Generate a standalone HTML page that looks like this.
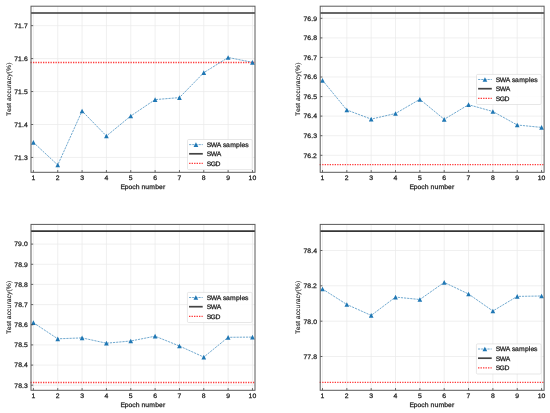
<!DOCTYPE html>
<html><head><meta charset="utf-8"><style>
html,body{margin:0;padding:0;background:#fff;}
body{width:550px;height:413px;overflow:hidden;}
svg{display:block;}
text{text-rendering:geometricPrecision;font-family:"Liberation Sans", sans-serif;font-size:6.45px;fill:#1e1e1e;stroke:#1e1e1e;stroke-width:0.25px;}
.t{filter:grayscale(1);}
</style></head><body>
<svg width="550" height="413" viewBox="0 0 550 413">
<rect width="550" height="413" fill="#fff"/>
<path d="M33.40,6.20V172.30M57.74,6.20V172.30M82.08,6.20V172.30M106.42,6.20V172.30M130.76,6.20V172.30M155.10,6.20V172.30M179.44,6.20V172.30M203.78,6.20V172.30M228.12,6.20V172.30M252.46,6.20V172.30M31.00,157.45H255.00M31.00,124.50H255.00M31.00,91.55H255.00M31.00,58.60H255.00M31.00,25.65H255.00" stroke="#e9e9e9" stroke-width="0.7" fill="none"/>
<path d="M31.00,13.00H255.00" stroke="#363636" stroke-width="1.6" fill="none"/>
<path d="M30.50,62.50H255.00" stroke="#ff3a3a" stroke-width="1.3" stroke-dasharray="1.3 1.2" fill="none"/>
<path d="M33.40,142.40L57.74,165.00L82.08,111.00L106.42,136.00L130.76,116.00L155.10,99.60L179.44,97.60L203.78,72.70L228.12,57.50L252.46,62.30" stroke="#1f77b4" stroke-width="0.75" stroke-dasharray="2.2 0.95" fill="none" opacity="0.85"/>
<path d="M33.40,140.05L31.05,144.75L35.75,144.75ZM57.74,162.65L55.39,167.35L60.09,167.35ZM82.08,108.65L79.73,113.35L84.43,113.35ZM106.42,133.65L104.07,138.35L108.77,138.35ZM130.76,113.65L128.41,118.35L133.11,118.35ZM155.10,97.25L152.75,101.95L157.45,101.95ZM179.44,95.25L177.09,99.95L181.79,99.95ZM203.78,70.35L201.43,75.05L206.13,75.05ZM228.12,55.15L225.77,59.85L230.47,59.85ZM252.46,59.95L250.11,64.65L254.81,64.65Z" fill="#1f77b4"/>
<path d="M33.40,172.30V170.10M57.74,172.30V170.10M82.08,172.30V170.10M106.42,172.30V170.10M130.76,172.30V170.10M155.10,172.30V170.10M179.44,172.30V170.10M203.78,172.30V170.10M228.12,172.30V170.10M252.46,172.30V170.10M31.00,157.45H33.20M31.00,124.50H33.20M31.00,91.55H33.20M31.00,58.60H33.20M31.00,25.65H33.20" stroke="#333" stroke-width="0.75" fill="none"/>
<rect x="31.00" y="6.20" width="224.00" height="166.10" stroke="#5a5a5a" stroke-width="1.0" fill="none"/>
<rect x="187.50" y="139.50" width="64.70" height="30.10" rx="1.2" fill="#fff" fill-opacity="0.85" stroke="#d6d6d6" stroke-width="0.6"/>
<path d="M189.10,144.60H202.80" stroke="#1f77b4" stroke-width="0.75" stroke-dasharray="2.2 0.95" fill="none" opacity="0.85"/>
<path d="M195.95,142.25L193.60,146.95L198.30,146.95Z" fill="#1f77b4"/>
<path d="M189.10,153.80H202.80" stroke="#444" stroke-width="1.7" fill="none"/>
<path d="M189.10,163.40H202.80" stroke="#ff3a3a" stroke-width="1.3" stroke-dasharray="1.4 1.1" fill="none"/>
<path d="M322.50,6.20V172.30M346.84,6.20V172.30M371.18,6.20V172.30M395.52,6.20V172.30M419.86,6.20V172.30M444.20,6.20V172.30M468.54,6.20V172.30M492.88,6.20V172.30M517.22,6.20V172.30M541.56,6.20V172.30M320.20,155.30H544.10M320.20,135.70H544.10M320.20,116.10H544.10M320.20,96.60H544.10M320.20,77.00H544.10M320.20,57.40H544.10M320.20,37.90H544.10M320.20,18.30H544.10" stroke="#e9e9e9" stroke-width="0.7" fill="none"/>
<path d="M320.20,13.05H544.10" stroke="#363636" stroke-width="1.6" fill="none"/>
<path d="M319.70,164.70H544.10" stroke="#ff3a3a" stroke-width="1.3" stroke-dasharray="1.3 1.2" fill="none"/>
<path d="M322.50,80.30L346.84,110.00L371.18,119.10L395.52,113.50L419.86,99.30L444.20,119.30L468.54,104.70L492.88,111.50L517.22,125.00L541.56,127.40" stroke="#1f77b4" stroke-width="0.75" stroke-dasharray="2.2 0.95" fill="none" opacity="0.85"/>
<path d="M322.50,77.95L320.15,82.65L324.85,82.65ZM346.84,107.65L344.49,112.35L349.19,112.35ZM371.18,116.75L368.83,121.45L373.53,121.45ZM395.52,111.15L393.17,115.85L397.87,115.85ZM419.86,96.95L417.51,101.65L422.21,101.65ZM444.20,116.95L441.85,121.65L446.55,121.65ZM468.54,102.35L466.19,107.05L470.89,107.05ZM492.88,109.15L490.53,113.85L495.23,113.85ZM517.22,122.65L514.87,127.35L519.57,127.35ZM541.56,125.05L539.21,129.75L543.91,129.75Z" fill="#1f77b4"/>
<path d="M322.50,172.30V170.10M346.84,172.30V170.10M371.18,172.30V170.10M395.52,172.30V170.10M419.86,172.30V170.10M444.20,172.30V170.10M468.54,172.30V170.10M492.88,172.30V170.10M517.22,172.30V170.10M541.56,172.30V170.10M320.20,155.30H322.40M320.20,135.70H322.40M320.20,116.10H322.40M320.20,96.60H322.40M320.20,77.00H322.40M320.20,57.40H322.40M320.20,37.90H322.40M320.20,18.30H322.40" stroke="#333" stroke-width="0.75" fill="none"/>
<rect x="320.20" y="6.20" width="223.90" height="166.10" stroke="#5a5a5a" stroke-width="1.0" fill="none"/>
<rect x="476.50" y="74.40" width="64.70" height="30.10" rx="1.2" fill="#fff" fill-opacity="0.85" stroke="#d6d6d6" stroke-width="0.6"/>
<path d="M478.10,79.50H491.80" stroke="#1f77b4" stroke-width="0.75" stroke-dasharray="2.2 0.95" fill="none" opacity="0.85"/>
<path d="M484.95,77.15L482.60,81.85L487.30,81.85Z" fill="#1f77b4"/>
<path d="M478.10,88.70H491.80" stroke="#444" stroke-width="1.7" fill="none"/>
<path d="M478.10,98.30H491.80" stroke="#ff3a3a" stroke-width="1.3" stroke-dasharray="1.4 1.1" fill="none"/>
<path d="M33.40,224.40V390.30M57.74,224.40V390.30M82.08,224.40V390.30M106.42,224.40V390.30M130.76,224.40V390.30M155.10,224.40V390.30M179.44,224.40V390.30M203.78,224.40V390.30M228.12,224.40V390.30M252.46,224.40V390.30M31.00,385.20H255.00M31.00,365.10H255.00M31.00,344.90H255.00M31.00,324.80H255.00M31.00,304.60H255.00M31.00,284.40H255.00M31.00,264.30H255.00M31.00,244.10H255.00" stroke="#e9e9e9" stroke-width="0.7" fill="none"/>
<path d="M31.00,231.10H255.00" stroke="#363636" stroke-width="1.6" fill="none"/>
<path d="M30.50,382.50H255.00" stroke="#ff3a3a" stroke-width="1.3" stroke-dasharray="1.3 1.2" fill="none"/>
<path d="M33.40,322.70L57.74,338.80L82.08,337.90L106.42,343.20L130.76,341.00L155.10,336.20L179.44,346.00L203.78,357.10L228.12,337.30L252.46,337.10" stroke="#1f77b4" stroke-width="0.75" stroke-dasharray="2.2 0.95" fill="none" opacity="0.85"/>
<path d="M33.40,320.35L31.05,325.05L35.75,325.05ZM57.74,336.45L55.39,341.15L60.09,341.15ZM82.08,335.55L79.73,340.25L84.43,340.25ZM106.42,340.85L104.07,345.55L108.77,345.55ZM130.76,338.65L128.41,343.35L133.11,343.35ZM155.10,333.85L152.75,338.55L157.45,338.55ZM179.44,343.65L177.09,348.35L181.79,348.35ZM203.78,354.75L201.43,359.45L206.13,359.45ZM228.12,334.95L225.77,339.65L230.47,339.65ZM252.46,334.75L250.11,339.45L254.81,339.45Z" fill="#1f77b4"/>
<path d="M33.40,390.30V388.10M57.74,390.30V388.10M82.08,390.30V388.10M106.42,390.30V388.10M130.76,390.30V388.10M155.10,390.30V388.10M179.44,390.30V388.10M203.78,390.30V388.10M228.12,390.30V388.10M252.46,390.30V388.10M31.00,385.20H33.20M31.00,365.10H33.20M31.00,344.90H33.20M31.00,324.80H33.20M31.00,304.60H33.20M31.00,284.40H33.20M31.00,264.30H33.20M31.00,244.10H33.20" stroke="#333" stroke-width="0.75" fill="none"/>
<rect x="31.00" y="224.40" width="224.00" height="165.90" stroke="#5a5a5a" stroke-width="1.0" fill="none"/>
<rect x="187.40" y="292.40" width="64.70" height="30.10" rx="1.2" fill="#fff" fill-opacity="0.85" stroke="#d6d6d6" stroke-width="0.6"/>
<path d="M189.00,297.50H202.70" stroke="#1f77b4" stroke-width="0.75" stroke-dasharray="2.2 0.95" fill="none" opacity="0.85"/>
<path d="M195.85,295.15L193.50,299.85L198.20,299.85Z" fill="#1f77b4"/>
<path d="M189.00,306.70H202.70" stroke="#444" stroke-width="1.7" fill="none"/>
<path d="M189.00,316.30H202.70" stroke="#ff3a3a" stroke-width="1.3" stroke-dasharray="1.4 1.1" fill="none"/>
<path d="M322.50,224.40V390.30M346.84,224.40V390.30M371.18,224.40V390.30M395.52,224.40V390.30M419.86,224.40V390.30M444.20,224.40V390.30M468.54,224.40V390.30M492.88,224.40V390.30M517.22,224.40V390.30M541.56,224.40V390.30M320.20,356.50H544.10M320.20,321.20H544.10M320.20,285.80H544.10M320.20,250.50H544.10" stroke="#e9e9e9" stroke-width="0.7" fill="none"/>
<path d="M320.20,231.10H544.10" stroke="#363636" stroke-width="1.6" fill="none"/>
<path d="M319.70,382.40H544.10" stroke="#ff3a3a" stroke-width="1.3" stroke-dasharray="1.3 1.2" fill="none"/>
<path d="M322.50,289.00L346.84,304.50L371.18,315.40L395.52,297.10L419.86,299.50L444.20,282.40L468.54,294.00L492.88,311.00L517.22,296.40L541.56,296.00" stroke="#1f77b4" stroke-width="0.75" stroke-dasharray="2.2 0.95" fill="none" opacity="0.85"/>
<path d="M322.50,286.65L320.15,291.35L324.85,291.35ZM346.84,302.15L344.49,306.85L349.19,306.85ZM371.18,313.05L368.83,317.75L373.53,317.75ZM395.52,294.75L393.17,299.45L397.87,299.45ZM419.86,297.15L417.51,301.85L422.21,301.85ZM444.20,280.05L441.85,284.75L446.55,284.75ZM468.54,291.65L466.19,296.35L470.89,296.35ZM492.88,308.65L490.53,313.35L495.23,313.35ZM517.22,294.05L514.87,298.75L519.57,298.75ZM541.56,293.65L539.21,298.35L543.91,298.35Z" fill="#1f77b4"/>
<path d="M322.50,390.30V388.10M346.84,390.30V388.10M371.18,390.30V388.10M395.52,390.30V388.10M419.86,390.30V388.10M444.20,390.30V388.10M468.54,390.30V388.10M492.88,390.30V388.10M517.22,390.30V388.10M541.56,390.30V388.10M320.20,356.50H322.40M320.20,321.20H322.40M320.20,285.80H322.40M320.20,250.50H322.40" stroke="#333" stroke-width="0.75" fill="none"/>
<rect x="320.20" y="224.40" width="223.90" height="165.90" stroke="#5a5a5a" stroke-width="1.0" fill="none"/>
<rect x="476.40" y="343.90" width="64.70" height="30.10" rx="1.2" fill="#fff" fill-opacity="0.85" stroke="#d6d6d6" stroke-width="0.6"/>
<path d="M478.00,349.00H491.70" stroke="#1f77b4" stroke-width="0.75" stroke-dasharray="2.2 0.95" fill="none" opacity="0.85"/>
<path d="M484.85,346.65L482.50,351.35L487.20,351.35Z" fill="#1f77b4"/>
<path d="M478.00,358.20H491.70" stroke="#444" stroke-width="1.7" fill="none"/>
<path d="M478.00,367.80H491.70" stroke="#ff3a3a" stroke-width="1.3" stroke-dasharray="1.4 1.1" fill="none"/>
<g class="t">
<text transform="translate(0,179.60) scale(1.06,1)" x="29.68" y="0">1</text>
<text transform="translate(0,179.60) scale(1.06,1)" x="52.60" y="0">2</text>
<text transform="translate(0,179.60) scale(1.06,1)" x="75.65" y="0">3</text>
<text transform="translate(0,179.60) scale(1.06,1)" x="98.60" y="0">4</text>
<text transform="translate(0,179.60) scale(1.06,1)" x="121.54" y="0">5</text>
<text transform="translate(0,179.60) scale(1.06,1)" x="144.52" y="0">6</text>
<text transform="translate(0,179.60) scale(1.06,1)" x="167.48" y="0">7</text>
<text transform="translate(0,179.60) scale(1.06,1)" x="190.45" y="0">8</text>
<text transform="translate(0,179.60) scale(1.06,1)" x="213.39" y="0">9</text>
<text transform="translate(0,179.60) scale(1.06,1)" x="234.51 238.21" y="0">10</text>
<text transform="translate(0,159.80) scale(1.06,1)" x="13.44 17.07 20.75 22.61" y="0">71.3</text>
<text transform="translate(0,126.85) scale(1.06,1)" x="13.44 17.07 20.75 22.60" y="0">71.4</text>
<text transform="translate(0,93.90) scale(1.06,1)" x="13.44 17.07 20.75 22.58" y="0">71.5</text>
<text transform="translate(0,60.95) scale(1.06,1)" x="13.44 17.07 20.75 22.60" y="0">71.6</text>
<text transform="translate(0,28.00) scale(1.06,1)" x="13.44 17.07 20.75 22.59" y="0">71.7</text>
<text transform="translate(0,188.50) scale(1.06,1)" x="113.59 117.65 121.21 124.66 127.96 131.59 133.44 137.07 140.83 146.37 149.94 153.70" y="0">Epoch number</text>
<text style="stroke-width:0.12px" transform="translate(10.70,89.25) rotate(-90) scale(1.06,1)" x="-25.24 -21.53 -18.05 -14.76 -12.70 -11.15 -7.47 -4.30 -1.02 2.82 4.72 8.40 11.76 14.96 17.18 23.00" y="0">Test accuracy(%)</text>
<text transform="translate(0,147.00) scale(1.06,1)" x="195.08 198.83 204.54 208.68 210.42 213.23 217.14 222.68 226.35 227.86 231.34" y="0">SWA samples</text>
<text transform="translate(0,156.20) scale(1.06,1)" x="195.08 198.83 204.54" y="0">SWA</text>
<text transform="translate(0,165.80) scale(1.06,1)" x="195.08 198.76 203.38" y="0">SGD</text>
<text transform="translate(0,179.60) scale(1.06,1)" x="302.41" y="0">1</text>
<text transform="translate(0,179.60) scale(1.06,1)" x="325.34" y="0">2</text>
<text transform="translate(0,179.60) scale(1.06,1)" x="348.38" y="0">3</text>
<text transform="translate(0,179.60) scale(1.06,1)" x="371.34" y="0">4</text>
<text transform="translate(0,179.60) scale(1.06,1)" x="394.28" y="0">5</text>
<text transform="translate(0,179.60) scale(1.06,1)" x="417.26" y="0">6</text>
<text transform="translate(0,179.60) scale(1.06,1)" x="440.21" y="0">7</text>
<text transform="translate(0,179.60) scale(1.06,1)" x="463.19" y="0">8</text>
<text transform="translate(0,179.60) scale(1.06,1)" x="486.13" y="0">9</text>
<text transform="translate(0,179.60) scale(1.06,1)" x="507.24 510.94" y="0">10</text>
<text transform="translate(0,157.65) scale(1.06,1)" x="286.27 289.94 293.58 295.36" y="0">76.2</text>
<text transform="translate(0,138.05) scale(1.06,1)" x="286.27 289.94 293.58 295.44" y="0">76.3</text>
<text transform="translate(0,118.45) scale(1.06,1)" x="286.27 289.94 293.58 295.43" y="0">76.4</text>
<text transform="translate(0,98.95) scale(1.06,1)" x="286.27 289.94 293.58 295.41" y="0">76.5</text>
<text transform="translate(0,79.35) scale(1.06,1)" x="286.27 289.94 293.58 295.43" y="0">76.6</text>
<text transform="translate(0,59.75) scale(1.06,1)" x="286.27 289.94 293.58 295.42" y="0">76.7</text>
<text transform="translate(0,40.25) scale(1.06,1)" x="286.27 289.94 293.58 295.43" y="0">76.8</text>
<text transform="translate(0,20.65) scale(1.06,1)" x="286.27 289.94 293.58 295.41" y="0">76.9</text>
<text transform="translate(0,188.50) scale(1.06,1)" x="386.37 390.43 393.99 397.44 400.74 404.37 406.23 409.85 413.61 419.15 422.73 426.49" y="0">Epoch number</text>
<text style="stroke-width:0.12px" transform="translate(299.90,89.25) rotate(-90) scale(1.06,1)" x="-25.24 -21.53 -18.05 -14.76 -12.70 -11.15 -7.47 -4.30 -1.02 2.82 4.72 8.40 11.76 14.96 17.18 23.00" y="0">Test accuracy(%)</text>
<text transform="translate(0,81.90) scale(1.06,1)" x="467.73 471.47 477.18 481.32 483.06 485.87 489.78 495.32 498.99 500.50 503.98" y="0">SWA samples</text>
<text transform="translate(0,91.10) scale(1.06,1)" x="467.73 471.47 477.18" y="0">SWA</text>
<text transform="translate(0,100.70) scale(1.06,1)" x="467.73 471.40 476.02" y="0">SGD</text>
<text transform="translate(0,397.60) scale(1.06,1)" x="29.68" y="0">1</text>
<text transform="translate(0,397.60) scale(1.06,1)" x="52.60" y="0">2</text>
<text transform="translate(0,397.60) scale(1.06,1)" x="75.65" y="0">3</text>
<text transform="translate(0,397.60) scale(1.06,1)" x="98.60" y="0">4</text>
<text transform="translate(0,397.60) scale(1.06,1)" x="121.54" y="0">5</text>
<text transform="translate(0,397.60) scale(1.06,1)" x="144.52" y="0">6</text>
<text transform="translate(0,397.60) scale(1.06,1)" x="167.48" y="0">7</text>
<text transform="translate(0,397.60) scale(1.06,1)" x="190.45" y="0">8</text>
<text transform="translate(0,397.60) scale(1.06,1)" x="213.39" y="0">9</text>
<text transform="translate(0,397.60) scale(1.06,1)" x="234.51 238.21" y="0">10</text>
<text transform="translate(0,387.55) scale(1.06,1)" x="13.44 17.11 20.75 22.61" y="0">78.3</text>
<text transform="translate(0,367.45) scale(1.06,1)" x="13.44 17.11 20.75 22.60" y="0">78.4</text>
<text transform="translate(0,347.25) scale(1.06,1)" x="13.44 17.11 20.75 22.58" y="0">78.5</text>
<text transform="translate(0,327.15) scale(1.06,1)" x="13.44 17.11 20.75 22.60" y="0">78.6</text>
<text transform="translate(0,306.95) scale(1.06,1)" x="13.44 17.11 20.75 22.59" y="0">78.7</text>
<text transform="translate(0,286.75) scale(1.06,1)" x="13.44 17.11 20.75 22.60" y="0">78.8</text>
<text transform="translate(0,266.65) scale(1.06,1)" x="13.44 17.11 20.75 22.58" y="0">78.9</text>
<text transform="translate(0,246.45) scale(1.06,1)" x="13.44 17.09 20.75 22.60" y="0">79.0</text>
<text transform="translate(0,406.50) scale(1.06,1)" x="113.59 117.65 121.21 124.66 127.96 131.59 133.44 137.07 140.83 146.37 149.94 153.70" y="0">Epoch number</text>
<text style="stroke-width:0.12px" transform="translate(10.70,307.35) rotate(-90) scale(1.06,1)" x="-25.24 -21.53 -18.05 -14.76 -12.70 -11.15 -7.47 -4.30 -1.02 2.82 4.72 8.40 11.76 14.96 17.18 23.00" y="0">Test accuracy(%)</text>
<text transform="translate(0,299.90) scale(1.06,1)" x="194.99 198.74 204.44 208.58 210.32 213.13 217.05 222.59 226.26 227.76 231.24" y="0">SWA samples</text>
<text transform="translate(0,309.10) scale(1.06,1)" x="194.99 198.74 204.44" y="0">SWA</text>
<text transform="translate(0,318.70) scale(1.06,1)" x="194.99 198.66 203.28" y="0">SGD</text>
<text transform="translate(0,397.60) scale(1.06,1)" x="302.41" y="0">1</text>
<text transform="translate(0,397.60) scale(1.06,1)" x="325.34" y="0">2</text>
<text transform="translate(0,397.60) scale(1.06,1)" x="348.38" y="0">3</text>
<text transform="translate(0,397.60) scale(1.06,1)" x="371.34" y="0">4</text>
<text transform="translate(0,397.60) scale(1.06,1)" x="394.28" y="0">5</text>
<text transform="translate(0,397.60) scale(1.06,1)" x="417.26" y="0">6</text>
<text transform="translate(0,397.60) scale(1.06,1)" x="440.21" y="0">7</text>
<text transform="translate(0,397.60) scale(1.06,1)" x="463.19" y="0">8</text>
<text transform="translate(0,397.60) scale(1.06,1)" x="486.13" y="0">9</text>
<text transform="translate(0,397.60) scale(1.06,1)" x="507.24 510.94" y="0">10</text>
<text transform="translate(0,358.85) scale(1.06,1)" x="286.27 289.93 293.58 295.43" y="0">77.8</text>
<text transform="translate(0,323.55) scale(1.06,1)" x="286.27 289.94 293.58 295.43" y="0">78.0</text>
<text transform="translate(0,288.15) scale(1.06,1)" x="286.27 289.94 293.58 295.36" y="0">78.2</text>
<text transform="translate(0,252.85) scale(1.06,1)" x="286.27 289.94 293.58 295.43" y="0">78.4</text>
<text transform="translate(0,406.50) scale(1.06,1)" x="386.37 390.43 393.99 397.44 400.74 404.37 406.23 409.85 413.61 419.15 422.73 426.49" y="0">Epoch number</text>
<text style="stroke-width:0.12px" transform="translate(299.90,307.35) rotate(-90) scale(1.06,1)" x="-25.24 -21.53 -18.05 -14.76 -12.70 -11.15 -7.47 -4.30 -1.02 2.82 4.72 8.40 11.76 14.96 17.18 23.00" y="0">Test accuracy(%)</text>
<text transform="translate(0,351.40) scale(1.06,1)" x="467.63 471.38 477.08 481.22 482.96 485.78 489.69 495.23 498.90 500.40 503.88" y="0">SWA samples</text>
<text transform="translate(0,360.60) scale(1.06,1)" x="467.63 471.38 477.08" y="0">SWA</text>
<text transform="translate(0,370.20) scale(1.06,1)" x="467.63 471.30 475.93" y="0">SGD</text>
</g>
</svg>
</body></html>
